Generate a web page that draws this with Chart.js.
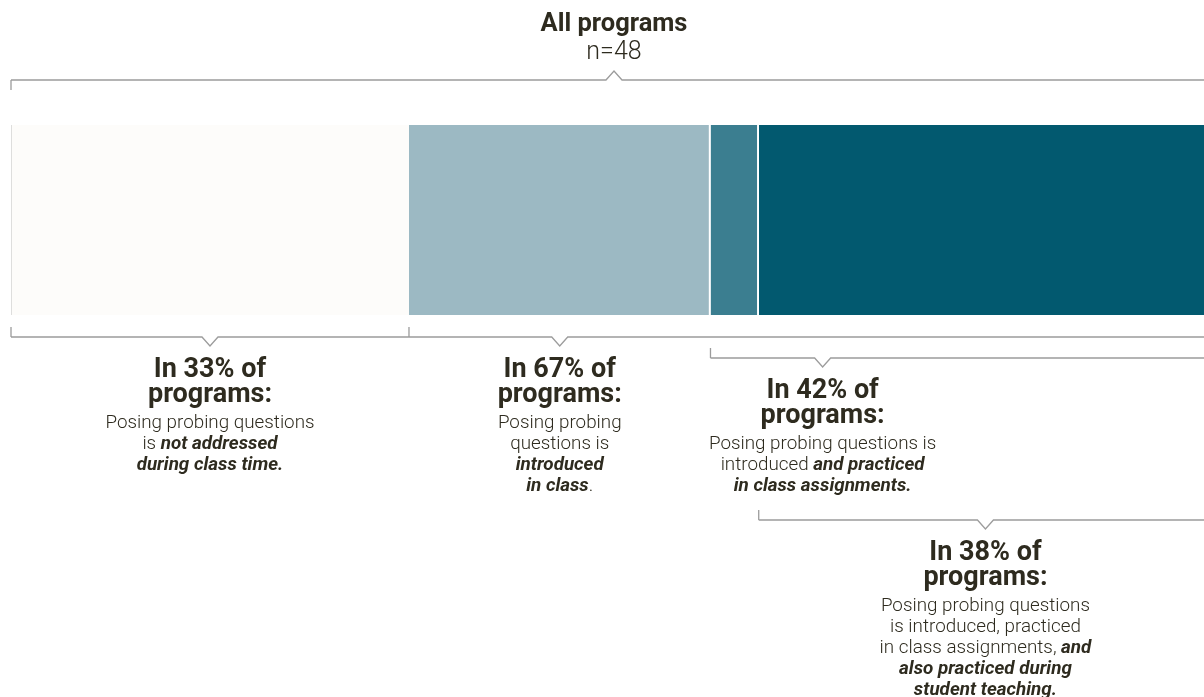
<!DOCTYPE html>
<html>
<head>
<meta charset="utf-8">
<script src="https://cdn.jsdelivr.net/npm/chart.js@4/dist/chart.umd.min.js"></script>
<style>
  html, body { margin: 0; padding: 0; background: #fff; overflow: hidden; }
  #wrap { width: 1220px; height: 697px; }
</style>
</head>
<body>
<div id="wrap"><canvas id="bar"></canvas></div>
<script>
// data
var categories = ['All programs'];
var segmentLabels = ['Not addressed', 'Introduced', 'Introduced and practiced in class', 'Also practiced in student teaching'];
var segmentValues = [33, 25, 4, 38];
var segmentColors = ['#fdfcfa', '#9cb9c3', '#3b7e90', '#02596f'];
var title = 'All programs';
var subtitle = 'n=48';

// callout text, *...* = bold italic
var noteHeads = [
    ['In 33% of', 'programs:'],
    ['In 67% of', 'programs:'],
    ['In 42% of', 'programs:'],
    ['In 38% of', 'programs:']
];
var noteBodies = [
    ['Posing probing questions', 'is *not addressed*', '*during class time.*'],
    ['Posing probing', 'questions is', '*introduced*', '*in class*.'],
    ['Posing probing questions is', 'introduced *and practiced*', '*in class assignments.*'],
    ['Posing probing questions', 'is introduced, practiced', 'in class assignments, *and*', '*also practiced during*', '*student teaching.*']
];

var INK = '#2e2b1f';
var RULE = '#9c9c9c';

function richLine(ctx, text, cx, y, size, sx) {
    var parts = text.split('*');
    var fonts = parts.map(function (p, i) {
        return i % 2 ? 'italic bold ' + size + 'px Roboto' : '300 ' + size + 'px Roboto';
    });
    var w = 0;
    parts.forEach(function (p, i) { ctx.font = fonts[i]; w += ctx.measureText(p).width; });
    ctx.save();
    ctx.translate(cx, y);
    ctx.scale(sx, 1);
    var x = -w / 2;
    ctx.textAlign = 'left';
    parts.forEach(function (p, i) {
        ctx.font = fonts[i];
        ctx.fillText(p, x, 0);
        x += ctx.measureText(p).width;
    });
    ctx.restore();
}

function boldLine(ctx, text, cx, y, size, sx) {
    ctx.save();
    ctx.translate(cx, y);
    ctx.scale(sx, 1);
    ctx.font = 'bold ' + size + 'px Roboto';
    ctx.textAlign = 'center';
    ctx.fillText(text, 0, 0);
    ctx.restore();
}

// bracket under (or over) a span, with a small caret
function bracket(ctx, x0, x1, y, caretX, up, ticks) {
    ctx.beginPath();
    ctx.strokeStyle = RULE;
    ctx.lineWidth = 1.3;
    var dir = up ? -1 : 1;
    ticks.forEach(function (tx) {
        ctx.moveTo(tx, y);
        ctx.lineTo(tx, y + (up ? 10 : -10));
    });
    ctx.moveTo(x0, y);
    ctx.lineTo(caretX - 8, y);
    ctx.lineTo(caretX, y + dir * 9);
    ctx.lineTo(caretX + 8, y);
    ctx.lineTo(x1, y);
    ctx.stroke();
}

var callouts = {
    id: 'callouts',
    afterDraw: function (chart) {
        var ctx = chart.ctx;
        var xs = chart.scales.x;
        var px = function (v) { return xs.getPixelForValue(v); };
        var cum = [0];
        segmentValues.forEach(function (v, i) { cum.push(cum[i] + v); });

        ctx.save();
        ctx.fillStyle = INK;
        ctx.textBaseline = 'alphabetic';

        // title
        boldLine(ctx, title, px(50), 31, 26, 0.98);
        richLine(ctx, subtitle, px(50), 59, 25, 1);
        bracket(ctx, px(0), px(100), 80, px(50), true, [px(0)]);

        // [spanFrom, spanTo, caret value, line y, tick values]
        var spans = [
            [cum[0], cum[1], 16.5, 337, [cum[0], cum[1]]],
            [cum[1], cum[4], 45.5, 337, []],
            [cum[2], cum[4], 67.3, 358, [cum[2]]],
            [cum[3], cum[4], 80.8, 520, [cum[3]]]
        ];
        spans.forEach(function (s, i) {
            var cx = px(s[2]);
            bracket(ctx, px(s[0]), px(s[1]), s[3], cx, false, s[4].map(px));
            ctx.fillStyle = INK;
            boldLine(ctx, noteHeads[i][0], cx, s[3] + 40, 27, 1);
            boldLine(ctx, noteHeads[i][1], cx, s[3] + 65, 27, 1);
            noteBodies[i].forEach(function (t, j) {
                richLine(ctx, t, cx, s[3] + 91 + j * 21, 19, 0.99);
            });
        });
        ctx.restore();
    }
};

var layout = {
    type: 'bar',
    data: {
        labels: categories,
        datasets: segmentLabels.map(function (lab, i) {
            return {
                label: lab,
                data: [segmentValues[i]],
                backgroundColor: segmentColors[i],
                borderColor: i === 0 ? '#cfcfcf' : '#ffffff',
                borderWidth: i === 0 ? { left: 1 } : { right: i < 3 ? 2 : 0 },
                borderSkipped: false,
                barPercentage: 1,
                categoryPercentage: 1
            };
        })
    },
    options: {
        indexAxis: 'y',
        responsive: false,
        animation: false,
        layout: { padding: { left: 11, right: 3, top: 125, bottom: 382 } },
        plugins: { legend: { display: false }, tooltip: { enabled: false } },
        scales: {
            x: { stacked: true, min: 0, max: 100, display: false },
            y: { stacked: true, display: false }
        }
    },
    plugins: [callouts]
};

var cv = document.getElementById('bar');
cv.width = 1220;
cv.height = 697;
new Chart(cv, layout);
</script>
</body>
</html>
